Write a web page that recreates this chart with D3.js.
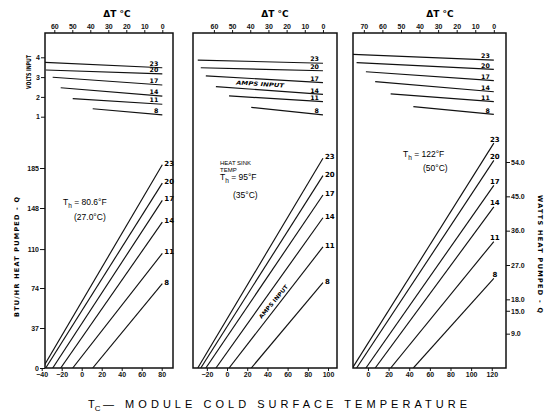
<!DOCTYPE html>
<html>
<head>
<meta charset="utf-8">
<script src="https://cdn.jsdelivr.net/npm/d3@7"></script>
<style>
  body { margin: 0; background: #fff; }
  svg { display: block; font-family: "DejaVu Sans", sans-serif; }
  .tick text { font-size: 7px; fill: #111; }
  .tick line { stroke: #111; stroke-width: 1; }
</style>
</head>
<body>
<svg id="chart" width="551" height="415"></svg>
<script>
// currents (amps) for each curve, top to bottom
const currents = [23, 20, 17, 14, 11, 8];
// heat sink temperature Th of each panel (°F)
const sinkTempF = [80.6, 95, 122];
const sinkLabelF = ['80.6°F', '95°F', '122°F'];
const sinkLabelC = ['(27.0°C)', '(35°C)', '(50°C)'];

// cold side temperature (°F) where heat pumped drops to 0 (max ΔT)
const zeroHeatTc = [
  [-39, -36, -29, -21, -9, 11],
  [-29, -26, -21, -11, 2, 24],
  [-15, -11, -2, 7, 22, 44]
];
// heat pumped (BTU/hr) at ΔT = 0 (Tc = Th)
const heatAtZeroDT = [
  [188, 171, 155, 135, 106, 78],
  [194, 178, 160, 139, 112, 79],
  [208, 192, 169, 149, 117, 83]
];
// input volts at max ΔT and at ΔT = 0
const voltsAtMaxDT = [
  [3.75, 3.36, 2.99, 2.46, 1.91, 1.40],
  [3.86, 3.47, 3.06, 2.52, 2.05, 1.47],
  [4.15, 3.73, 3.27, 2.77, 2.15, 1.51]
];
const voltsAtZeroDT = [
  [3.47, 3.16, 2.60, 2.04, 1.63, 1.09],
  [3.70, 3.32, 2.72, 2.13, 1.76, 1.09],
  [3.86, 3.39, 2.82, 2.26, 1.76, 1.12]
];

// tick labels
const tcTicks = [
  [-40, -20, 0, 20, 40, 60, 80],
  [-20, 0, 20, 40, 60, 80, 100],
  [0, 20, 40, 60, 80, 100, 120]
];
const dtTicks = [
  [60, 50, 40, 30, 20, 10, 0],
  [60, 50, 40, 30, 20, 10, 0],
  [70, 60, 50, 40, 30, 20, 10, 0]
];
const voltTicks = [1, 2, 3, 4];
const btuTicks = [0, 37, 74, 110, 148, 185];
const wattTicks = [9, 15, 18, 27, 36, 45, 54];

// layout
const plotTop = 33, plotBottom = 368;
const panels = [
  { x0: 45,  x1: 173, tcDomain: [-36.7, 91.3], titleX: 117, lab: { anchor: 'start', dx: 2, dy: 1 } },
  { x0: 193, x1: 337, tcDomain: [-33.7, 108.9], titleX: 275, lab: { anchor: 'start', dx: 2, dy: 1 } },
  { x0: 353, x1: 506, tcDomain: [-14.5, 133.8], titleX: 440, lab: { anchor: 'middle', dx: 1, dy: -1.5 } }
];

const svg = d3.select('#chart');

const yVolts = d3.scaleLinear().domain([0, 4]).range([136.5, 57.3]);
const yHeat  = d3.scaleLinear().domain([0, 185]).range([plotBottom, 168]);
const yWatts = d3.scaleLinear().domain([0, 54]).range([plotBottom, 162]);

const defs = svg.append('defs');

function styleAxis(g) {
  g.select('.domain').remove();
  g.selectAll('.tick text').attr('font-weight', 'bold');
}

panels.forEach((p, pi) => {
  const th = sinkTempF[pi];
  const x = d3.scaleLinear().domain(p.tcDomain).range([p.x0, p.x1]);
  // ΔT in °C across the top, same pixels as Tc in °F
  const dt = d3.scaleLinear()
    .domain([(th - p.tcDomain[0]) / 1.8, (th - p.tcDomain[1]) / 1.8])
    .range([p.x0, p.x1]);

  defs.append('clipPath').attr('id', 'clip' + pi)
    .append('rect')
      .attr('x', p.x0).attr('y', plotTop)
      .attr('width', p.x1 - p.x0).attr('height', plotBottom - plotTop);

  const g = svg.append('g');
  const lines = g.append('g').attr('clip-path', `url(#clip${pi})`)
    .attr('stroke', '#111').attr('stroke-width', 1.15).attr('fill', 'none');

  // volts input (upper) curves
  lines.selectAll('line.volts')
    .data(currents)
    .join('line')
      .attr('class', 'volts')
      .attr('x1', (d, i) => x(zeroHeatTc[pi][i]))
      .attr('y1', (d, i) => yVolts(voltsAtMaxDT[pi][i]))
      .attr('x2', x(th))
      .attr('y2', (d, i) => yVolts(voltsAtZeroDT[pi][i]));

  // heat pumped (lower) curves
  lines.selectAll('line.heat')
    .data(currents)
    .join('line')
      .attr('class', 'heat')
      .attr('x1', (d, i) => x(zeroHeatTc[pi][i]))
      .attr('y1', yHeat(0))
      .attr('x2', x(th))
      .attr('y2', (d, i) => yHeat(heatAtZeroDT[pi][i]));

  // current labels
  g.selectAll('text.vlab')
    .data(currents)
    .join('text')
      .attr('class', 'vlab')
      .attr('x', x(th) - 4)
      .attr('y', (d, i) => yVolts(voltsAtZeroDT[pi][i]) - 1.8)
      .attr('text-anchor', 'end')
      .attr('font-size', 6.3).attr('font-weight', 'bold')
      .text(d => d);

  g.selectAll('text.hlab')
    .data(currents)
    .join('text')
      .attr('class', 'hlab')
      .attr('x', x(th) + p.lab.dx)
      .attr('y', (d, i) => yHeat(heatAtZeroDT[pi][i]) + p.lab.dy)
      .attr('text-anchor', p.lab.anchor)
      .attr('font-size', 7).attr('font-weight', 'bold')
      .text(d => d);

  // frame
  g.append('rect')
    .attr('x', p.x0).attr('y', plotTop)
    .attr('width', p.x1 - p.x0).attr('height', plotBottom - plotTop)
    .attr('fill', 'none').attr('stroke', '#111').attr('stroke-width', 1.5);

  // axes
  g.append('g')
    .attr('transform', `translate(0,${plotBottom})`)
    .call(d3.axisBottom(x).tickValues(tcTicks[pi]).tickSize(3).tickPadding(1))
    .call(styleAxis)
    .selectAll('.tick text').attr('font-size', 7.5);

  g.append('g')
    .attr('transform', `translate(0,${plotTop})`)
    .call(d3.axisTop(dt).tickValues(dtTicks[pi]).tickSize(3).tickPadding(1))
    .call(styleAxis)
    .selectAll('.tick text').attr('font-size', 7.5);

  g.append('text')
    .attr('x', p.titleX)
    .attr('y', 17)
    .attr('text-anchor', 'middle')
    .attr('font-size', 9).attr('font-weight', 'bold')
    .text('ΔT °C');
});

// left axes on first panel
svg.append('g')
  .attr('transform', `translate(${panels[0].x0},0)`)
  .call(d3.axisLeft(yVolts).tickValues(voltTicks).tickFormat(d3.format('d')).tickSize(4).tickPadding(1))
  .call(styleAxis);

svg.append('g')
  .attr('transform', `translate(${panels[0].x0},0)`)
  .call(d3.axisLeft(yHeat).tickValues(btuTicks).tickFormat(d3.format('d')).tickSize(5).tickPadding(1))
  .call(styleAxis);

// right watts axis on last panel
svg.append('g')
  .attr('transform', `translate(${panels[2].x1},0)`)
  .call(d3.axisRight(yWatts).tickValues(wattTicks).tickFormat(d3.format('.1f')).tickSize(4).tickPadding(1))
  .call(styleAxis);

// rotated axis titles
svg.append('text')
  .attr('transform', 'translate(31,72) rotate(-90)')
  .attr('text-anchor', 'middle')
  .attr('font-size', 6.5).attr('font-weight', 'bold')
  .attr('textLength', 34).attr('lengthAdjust', 'spacingAndGlyphs')
  .text('VOLTS INPUT');

svg.append('text')
  .attr('transform', 'translate(19,257) rotate(-90)')
  .attr('text-anchor', 'middle')
  .attr('font-size', 6.5).attr('font-weight', 'bold')
  .attr('textLength', 120).attr('lengthAdjust', 'spacing')
  .text('BTU/HR HEAT PUMPED - Q');

svg.append('text')
  .attr('transform', 'translate(538,254) rotate(90)')
  .attr('text-anchor', 'middle')
  .attr('font-size', 6.5).attr('font-weight', 'bold')
  .attr('textLength', 118).attr('lengthAdjust', 'spacing')
  .text('WATTS HEAT PUMPED - Q');

// Th annotations
function thText(x, y, value) {
  const t = svg.append('text').attr('x', x).attr('y', y)
    .attr('font-size', 8.5).attr('font-family', '"Liberation Sans", sans-serif');
  t.append('tspan').text('T');
  t.append('tspan').attr('dy', 2.5).attr('font-size', 6.5).text('h');
  t.append('tspan').attr('dy', -2.5).text(' = ' + value);
  return t;
}
thText(63, 205, sinkLabelF[0]);
svg.append('text').attr('x', 74).attr('y', 220)
  .attr('font-size', 8.5).attr('font-family', '"Liberation Sans", sans-serif')
  .text(sinkLabelC[0]);

svg.append('text').attr('x', 220).attr('y', 165)
  .attr('font-size', 6).attr('font-family', '"Liberation Sans", sans-serif')
  .text('HEAT SINK');
svg.append('text').attr('x', 220).attr('y', 172)
  .attr('font-size', 6).attr('font-family', '"Liberation Sans", sans-serif')
  .text('TEMP');
thText(220, 180, sinkLabelF[1]);
svg.append('text').attr('x', 233).attr('y', 198)
  .attr('font-size', 8.5).attr('font-family', '"Liberation Sans", sans-serif')
  .text(sinkLabelC[1]);

thText(403, 157, sinkLabelF[2]);
svg.append('text').attr('x', 423).attr('y', 171)
  .attr('font-size', 8.5).attr('font-family', '"Liberation Sans", sans-serif')
  .text(sinkLabelC[2]);

// AMPS INPUT labels in middle panel
svg.append('text')
  .attr('transform', 'translate(260,86) rotate(3.5)')
  .attr('text-anchor', 'middle')
  .attr('font-size', 5.5).attr('font-weight', 'bold').attr('font-style', 'italic')
  .attr('textLength', 48).attr('lengthAdjust', 'spacingAndGlyphs')
  .text('AMPS INPUT');

svg.append('text')
  .attr('transform', 'translate(275,303) rotate(-50)')
  .attr('text-anchor', 'middle')
  .attr('font-size', 5.5).attr('font-weight', 'bold')
  .attr('textLength', 42).attr('lengthAdjust', 'spacingAndGlyphs')
  .text('AMPS INPUT');

// bottom title
const titleFont = '"Liberation Sans", sans-serif';
svg.append('text')
  .attr('x', 88).attr('y', 408)
  .attr('font-size', 11).attr('font-family', titleFont)
  .text('T')
  .append('tspan').attr('dy', 3).attr('font-size', 8).text('C');
svg.append('text')
  .attr('x', 103).attr('y', 408)
  .attr('font-size', 11).attr('font-family', titleFont)
  .attr('textLength', 364).attr('lengthAdjust', 'spacing')
  .text('— MODULE COLD SURFACE TEMPERATURE');
</script>
</body>
</html>
